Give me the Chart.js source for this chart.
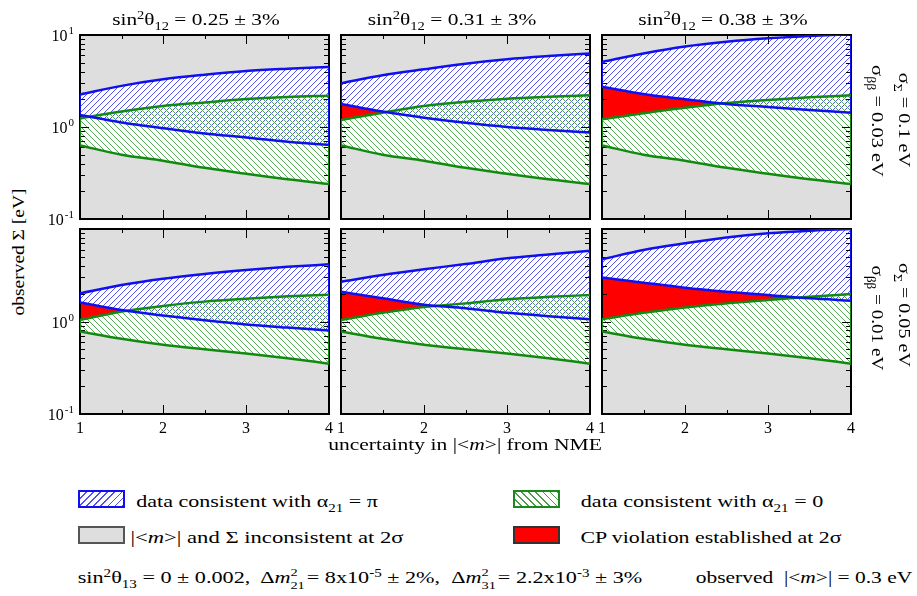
<!DOCTYPE html>
<html>
<head>
<meta charset="utf-8">
<script src="https://cdn.jsdelivr.net/npm/chart.js@4.4.1/dist/chart.umd.min.js"></script>
<style>
body { margin:0; background:#fff; width:917px; height:596px; position:relative; overflow:hidden; font-family:"Liberation Serif", "Times New Roman", serif; color:#000; }
canvas { position:absolute; }
.t { position:absolute; white-space:nowrap; font-size:17px; line-height:17px; }
sup, sub { font-size:0.68em; line-height:0; position:relative; vertical-align:baseline; }
sup { top:-0.5em; }
sub { top:0.4em; }
.st { display:inline-block; position:relative; width:0.75em; height:1em; font-size:11px; }
.st i { position:absolute; left:0; font-style:normal; line-height:1; }
.st .u { top:-5px; }
.st .d { top:8px; }
.box { position:absolute; width:43px; height:14px; }
</style>
</head>
<body>
<div id="charts"></div>

<div class="t" data-x="196" data-y="19" data-w="168">sin<sup>2</sup>θ<sub>12</sub> = 0.25 ± 3%</div>
<div class="t" data-x="452" data-y="19" data-w="169">sin<sup>2</sup>θ<sub>12</sub> = 0.31 ± 3%</div>
<div class="t" data-x="723" data-y="19" data-w="170">sin<sup>2</sup>θ<sub>12</sub> = 0.38 ± 3%</div>

<div class="t" data-x="18" data-y="252" data-w="127" data-r="-90">observed Σ [eV]</div>
<div class="t" data-x="465" data-y="444" data-w="274">uncertainty in |&lt;<i>m</i>&gt;| from NME</div>

<div class="t" data-x="904" data-y="120" data-w="94" data-r="90">σ<sub>Σ</sub> = 0.1 eV</div>
<div class="t" data-x="877" data-y="121" data-w="112" data-r="90">σ<sub>ββ</sub> = 0.03 eV</div>
<div class="t" data-x="904" data-y="315" data-w="104" data-r="90">σ<sub>Σ</sub> = 0.05 eV</div>
<div class="t" data-x="877" data-y="318" data-w="105" data-r="90">σ<sub>ββ</sub> = 0.01 eV</div>

<div class="box" style="left:78px; top:490px; border:2px solid #1010ee; background:#fff repeating-linear-gradient(135deg, #fff 0 4px, #5050f0 4px 5px);"></div>
<div class="t" data-x="257" data-y="501" data-w="241">data consistent with α<sub>21</sub> = π</div>
<div class="box" style="left:513px; top:490px; border:2px solid #1a8a1a; background:#fff repeating-linear-gradient(45deg, #fff 0 4px, #4c9c4c 4px 5px);"></div>
<div class="t" data-x="702" data-y="501" data-w="242">data consistent with α<sub>21</sub> = 0</div>
<div class="box" style="left:78px; top:526px; border:2px solid #555; background:#dedede;"></div>
<div class="t" data-x="267" data-y="537" data-w="273">|&lt;<i>m</i>&gt;| and Σ inconsistent at 2σ</div>
<div class="box" style="left:513px; top:526px; border:2px solid #333; background:#ff0000;"></div>
<div class="t" data-x="711" data-y="537" data-w="261">CP violation established at 2σ</div>

<div class="t" data-x="360" data-y="577" data-w="565">sin<sup>2</sup>θ<sub>13</sub> = 0 ± 0.002,&nbsp; Δ<i>m</i><span class="st"><i class="u">2</i><i class="d">21</i></span> = 8x10<sup>-5</sup> ± 2%,&nbsp; Δ<i>m</i><span class="st"><i class="u">2</i><i class="d">31</i></span> = 2.2x10<sup>-3</sup> ± 3%</div>
<div class="t" data-x="804" data-y="577" data-w="217">observed&nbsp; |&lt;<i>m</i>&gt;| = 0.3 eV</div>

<script>
// uncertainty factor from NME (x axis)
const xValues = [1, 1.5, 2, 2.5, 3, 3.5, 4];
const xTicks = [1, 2, 3, 4];
const yTicksTop = [0.1, 1, 10];
const yTicksBottom = [0.1, 1];

// panels: top row (sigma_S=0.1, sigma_bb=0.03) then bottom row (0.05, 0.01); left to right sin^2 = 0.25, 0.31, 0.38
const blueUpper = [
  [2.26, 2.8, 3.3, 3.7, 4.06, 4.3, 4.5],
  [2.99, 3.65, 4.24, 4.88, 5.45, 5.9, 6.3],
  [5.1, 6.3, 7.5, 8.45, 9.2, 9.75, 10.2],
  [2.02, 2.48, 2.9, 3.27, 3.6, 3.9, 4.15],
  [2.69, 3.18, 3.67, 4.18, 4.82, 5.3, 5.83],
  [4.7, 5.93, 7.0, 8.1, 8.98, 9.6, 10.0]
];
const blueLower = [
  [1.35, 1.12, 0.97, 0.85, 0.77, 0.69, 0.64],
  [1.78, 1.47, 1.26, 1.11, 1.0, 0.93, 0.87],
  [2.74, 2.28, 2.0, 1.78, 1.65, 1.53, 1.43],
  [1.61, 1.33, 1.16, 1.03, 0.93, 0.86, 0.8],
  [2.1, 1.78, 1.52, 1.39, 1.24, 1.14, 1.06],
  [3.0, 2.63, 2.32, 2.1, 1.93, 1.78, 1.68]
];
const greenUpper = [
  [1.24, 1.47, 1.69, 1.85, 2.01, 2.12, 2.19],
  [1.19, 1.43, 1.69, 1.88, 2.03, 2.13, 2.21],
  [1.21, 1.41, 1.62, 1.82, 1.97, 2.1, 2.21],
  [1.04, 1.28, 1.47, 1.64, 1.76, 1.87, 1.95],
  [1.04, 1.24, 1.43, 1.57, 1.74, 1.85, 1.93],
  [1.06, 1.24, 1.42, 1.57, 1.71, 1.85, 1.98]
];
const greenLower = [
  [0.63, 0.50, 0.43, 0.36, 0.31, 0.27, 0.24],
  [0.63, 0.50, 0.43, 0.36, 0.31, 0.27, 0.24],
  [0.63, 0.50, 0.43, 0.36, 0.31, 0.27, 0.24],
  [0.78, 0.65, 0.56, 0.50, 0.45, 0.40, 0.35],
  [0.78, 0.65, 0.56, 0.50, 0.45, 0.40, 0.35],
  [0.78, 0.65, 0.56, 0.50, 0.45, 0.40, 0.35]
];

const BLUE = '#1010ee', GREEN = '#128a12', GRAY = '#dedede';
const HATCH_BLUE = '#5252f2', HATCH_GREEN = '#55a855';
const cols = [80, 341, 602], rows = [35, 229];
const PW = 249, PH = [184, 185], PAD = 10;

// put the text blocks in place, stretched to the widths of the original
function placeText() {
  document.querySelectorAll('.t').forEach(el => {
    let s = +el.dataset.w / el.offsetWidth;
    el.style.left = el.dataset.x + 'px';
    el.style.top = el.dataset.y + 'px';
    el.style.transform = 'translate(-50%,-50%) rotate(' + (el.dataset.r || 0) + 'deg) scaleX(' + s + ')';
  });
}
if (document.fonts) document.fonts.ready.then(placeText);
placeText();

function pts(arr) { return arr.map((y, i) => ({x: xValues[i], y: y})); }
function edge(a, b, i) { return [{x: xValues[i], y: a[i]}, {x: xValues[i], y: b[i]}]; }
function mod(a, n) { return ((a % n) + n) % n; }

// band outline built from the line elements (same curves as drawn)
function bandPath(ctx, up, lo) {
  ctx.beginPath();
  ctx.moveTo(up[0].x, up[0].y);
  for (let i = 1; i < up.length; i++) {
    ctx.bezierCurveTo(up[i - 1].cp2x, up[i - 1].cp2y, up[i].cp1x, up[i].cp1y, up[i].x, up[i].y);
  }
  let n = lo.length - 1;
  ctx.lineTo(lo[n].x, lo[n].y);
  for (let i = n; i > 0; i--) {
    ctx.bezierCurveTo(lo[i].cp1x, lo[i].cp1y, lo[i - 1].cp2x, lo[i - 1].cp2y, lo[i - 1].x, lo[i - 1].y);
  }
  ctx.closePath();
}

function hatchBand(chart, iu, il, color, up) {
  let ctx = chart.ctx, a = chart.chartArea;
  let pu = chart.getDatasetMeta(iu).data, pl = chart.getDatasetMeta(il).data;
  let h = Math.round(a.bottom - a.top);
  let ox = chart.canvas.offsetLeft, oy = chart.canvas.offsetTop;
  // keep the same phase of the hatching on the page for every panel
  let start = Math.round(a.left) - h - 12;
  if (up) start += mod(1 - (start + Math.round(a.bottom) + ox + oy), 6);
  else start += mod(2 - (start - Math.round(a.top) + ox - oy), 6);
  ctx.save();
  bandPath(ctx, pu, pl);
  ctx.clip();
  ctx.strokeStyle = color;
  ctx.lineWidth = 1;
  ctx.beginPath();
  for (let x0 = start; x0 < a.right + h; x0 += 6) {
    if (up) { ctx.moveTo(x0, Math.round(a.bottom)); ctx.lineTo(x0 + h, Math.round(a.bottom) - h); }
    else { ctx.moveTo(x0, Math.round(a.top)); ctx.lineTo(x0 + h, Math.round(a.top) + h); }
  }
  ctx.stroke();
  ctx.restore();
}

// gray area, hatching, frame and inward ticks
const framePlugin = {
  id: 'frame',
  beforeDraw(chart) {
    let a = chart.chartArea, ctx = chart.ctx;
    ctx.save();
    ctx.fillStyle = GRAY;
    ctx.fillRect(a.left, a.top, a.right - a.left, a.bottom - a.top);
    ctx.restore();
  },
  beforeDatasetsDraw(chart) {
    hatchBand(chart, 0, 1, HATCH_BLUE, true);
    hatchBand(chart, 2, 3, HATCH_GREEN, false);
    let a = chart.chartArea, ctx = chart.ctx;
    let xs = chart.scales.x, ys = chart.scales.y;
    ctx.save();
    ctx.strokeStyle = '#000';
    ctx.lineWidth = 1;
    ctx.beginPath();
    for (let d of [0.1, 1]) {
      for (let k = 2; k <= 9; k++) {
        let y = Math.round(ys.getPixelForValue(k * d)) + 0.5;
        ctx.moveTo(a.left, y); ctx.lineTo(a.left + 5, y);
        ctx.moveTo(a.right, y); ctx.lineTo(a.right - 5, y);
      }
    }
    for (let v of yTicksTop) {
      let y = Math.round(ys.getPixelForValue(v)) + 0.5;
      ctx.moveTo(a.left, y); ctx.lineTo(a.left + 9, y);
      ctx.moveTo(a.right, y); ctx.lineTo(a.right - 9, y);
    }
    for (let v of [1, 1.5, 2, 2.5, 3, 3.5, 4]) {
      let x = Math.round(xs.getPixelForValue(v)) + 0.5;
      let len = Number.isInteger(v) ? 9 : 4;
      ctx.moveTo(x, a.top); ctx.lineTo(x, a.top + len);
      ctx.moveTo(x, a.bottom); ctx.lineTo(x, a.bottom - len);
    }
    ctx.stroke();
    ctx.lineWidth = 2;
    ctx.strokeRect(a.left, a.top, a.right - a.left, a.bottom - a.top);
    ctx.restore();
  },
  afterDraw(chart) {
    let o = chart.options.plugins.frame, ctx = chart.ctx;
    let a = chart.chartArea;
    ctx.save();
    ctx.fillStyle = '#000';
    ctx.textBaseline = 'alphabetic';
    if (o.yLabels) {
      for (let v of o.yLabels) {
        let y = chart.scales.y.getPixelForValue(v);
        let e = String(Math.round(Math.log10(v)));
        ctx.font = '11px "Liberation Serif"';
        let ew = ctx.measureText(e).width;
        ctx.textAlign = 'right';
        ctx.fillText(e, a.left - 6, y - 1);
        ctx.font = '16px "Liberation Serif"';
        ctx.fillText('10', a.left - 7 - ew, y + 6);
      }
    }
    if (o.xLabels) {
      ctx.font = '16px "Liberation Serif"';
      ctx.textAlign = 'center';
      for (let v of xTicks) {
        ctx.fillText(String(v), chart.scales.x.getPixelForValue(v), a.bottom + 19);
      }
    }
    ctx.restore();
  }
};

function makePanel(p) {
  let r = Math.floor(p / 3), c = p % 3;
  let left = c === 0 ? 40 : PAD, bottom = r === 1 ? 24 : PAD;
  let cv = document.createElement('canvas');
  cv.width = PW + left + PAD;
  cv.height = PH[r] + PAD + bottom;
  cv.style.left = (cols[c] - left) + 'px';
  cv.style.top = (rows[r] - PAD) + 'px';
  document.getElementById('charts').appendChild(cv);

  let line = (data, color, fill, bg) => ({
    data: data, borderColor: color, borderWidth: 2.5, backgroundColor: bg || 'transparent',
    fill: fill, pointRadius: 0, cubicInterpolationMode: 'monotone'
  });
  let side = (data, color) => ({
    data: data, borderColor: color, borderWidth: 2, fill: false, pointRadius: 0
  });

  let bu = blueUpper[p], bl = blueLower[p], gu = greenUpper[p], gl = greenLower[p];
  new Chart(cv, {
    type: 'line',
    data: {
      datasets: [
        line(pts(bu), BLUE, '+1', '#ffffff'),
        line(pts(bl), BLUE, {target: '+1', above: '#ff0000', below: 'rgba(0,0,0,0)'}),
        line(pts(gu), GREEN, '+1', '#ffffff'),
        line(pts(gl), GREEN, false),
        side(edge(bu, bl, 0), BLUE),
        side(edge(bu, bl, 6), BLUE),
        side(edge(gu, gl, 0), GREEN),
        side(edge(gu, gl, 6), GREEN)
      ]
    },
    options: {
      responsive: false,
      animation: false,
      layout: {padding: {left: left, right: PAD, top: PAD, bottom: bottom}},
      scales: {
        x: {type: 'linear', min: 1, max: 4, display: false},
        y: {type: 'logarithmic', min: 0.1, max: 10, display: false}
      },
      plugins: {
        legend: {display: false},
        tooltip: {enabled: false},
        filler: {drawTime: 'beforeDatasetsDraw'},
        frame: {yLabels: c === 0 ? (r === 0 ? yTicksTop : yTicksBottom) : null, xLabels: r === 1}
      }
    },
    plugins: [framePlugin]
  });
}

for (let p = 0; p < 6; p++) makePanel(p);
</script>
</body>
</html>
